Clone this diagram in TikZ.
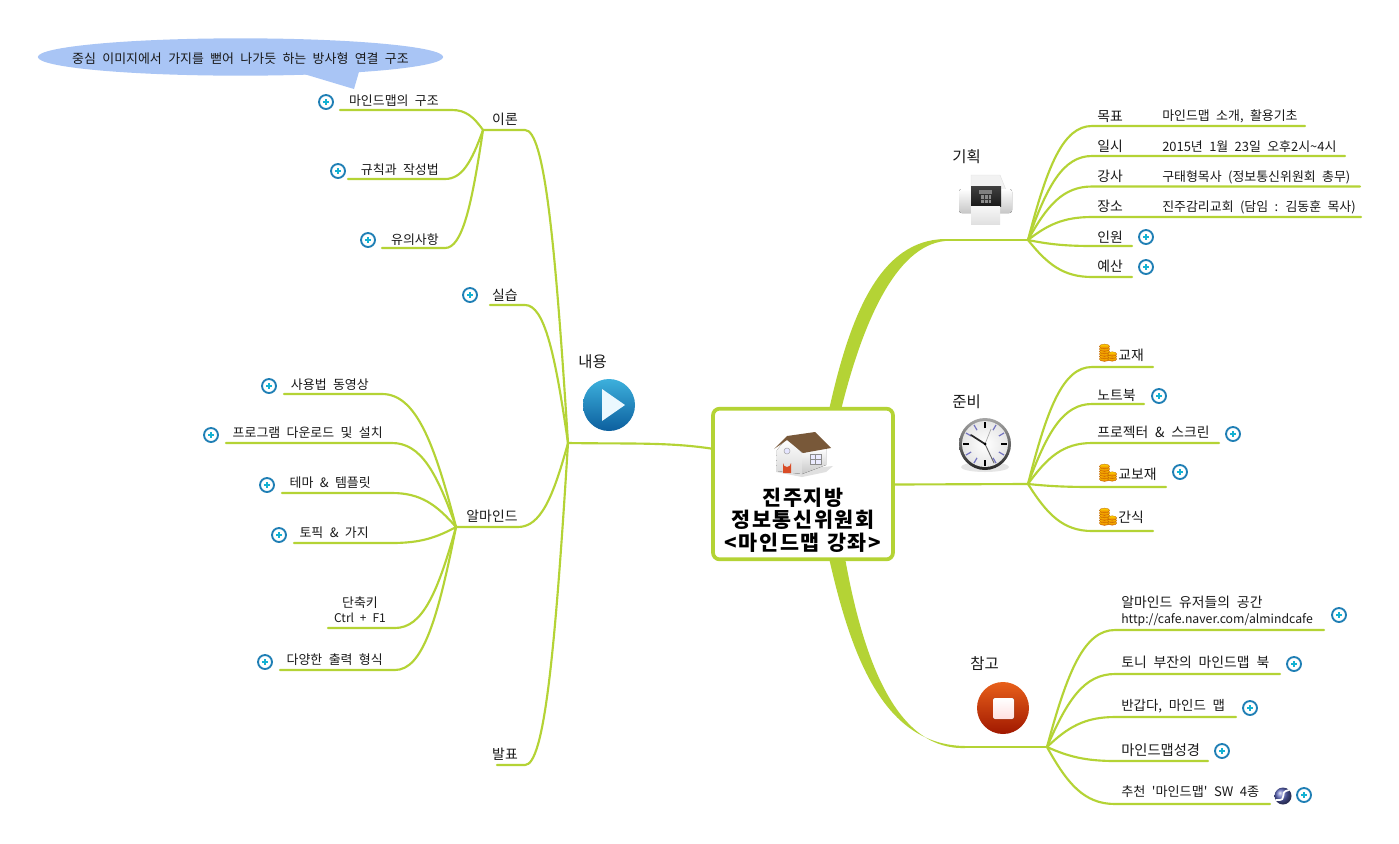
\documentclass[tikz,border=0pt]{standalone}
\usepackage{fontspec}
\setmainfont[WordSpace=2.2]{Noto Sans CJK KR}
\usetikzlibrary{shapes.geometric}
\definecolor{brgreen}{HTML}{B4D335}
\definecolor{plusblue}{HTML}{1F7FB5}
\definecolor{calloutblue}{HTML}{A9C5F5}
\definecolor{playtop}{HTML}{3DB0DC}
\definecolor{playmid}{HTML}{1590C8}
\definecolor{playbot}{HTML}{0C5F9E}
\definecolor{stoptop}{HTML}{E8601A}
\definecolor{stopmid}{HTML}{D93A08}
\definecolor{stopbot}{HTML}{A01800}
\definecolor{globeblue}{HTML}{5A64B8}
\tikzset{
 branch/.style={draw=brgreen,line width=1.6pt,line cap=round},
 txt/.style={inner sep=0pt,font=\fontsize{9.7pt}{11.6pt}\selectfont,text=black!90,align=left,yshift=-0.6pt},
 bigtxt/.style={font=\fontsize{10.4pt}{12pt}\selectfont},
 lefttxt/.style={txt,anchor=west},
 righttxt/.style={txt,anchor=east},
 head/.style={inner sep=0pt,anchor=west,font=\fontsize{11.6pt}{13pt}\selectfont,text=black!90,yshift=-0.6pt},
 plusring/.style={circle,draw=plusblue,line width=1.4pt,fill=white,minimum size=10.5pt,inner sep=0pt},
 centerbox/.style={draw=brgreen,line width=2.8pt,fill=white,rounded corners=5pt,minimum width=135pt,minimum height=113pt},
 taper/.style={fill=brgreen,draw=none},
 coin/.style={top color=yellow!70!orange,bottom color=orange!90!black,draw=orange!75!black,line width=.25pt},
}
\newcommand{\leaf}[7]{%
 \pgfmathsetmacro\ca{#3+0.3*(#5-#3)}\pgfmathsetmacro\cb{#4+0.65*(#6-#4)}\pgfmathsetmacro\cc{#3+0.55*(#5-#3)}%
 \coordinate (#1e) at (#7,#6);
 \draw[branch] (#2) .. controls (\ca,\cb) and (\cc,#6) .. (#5,#6) -- (#1e);}
\newcommand{\plusicon}[3]{%
 \node[plusring] (#1) at (#2,#3) {};
 \draw[plusblue!60!cyan,line width=1.1pt] ([xshift=-2.2pt]#1.center) -- ([xshift=2.2pt]#1.center) ([yshift=-2.2pt]#1.center) -- ([yshift=2.2pt]#1.center);}
\newcommand{\coins}[2]{%
 \begin{scope}[shift={(#1,#2)}]
  \foreach \yy in {6,3.5,1,-1.5,-4,-6.5}{\path[coin] (-2.5,\yy) ellipse[x radius=5.2,y radius=2.4];}
  \foreach \yy in {6,3.5,1}{\path[coin] (5.2,\yy) ellipse[x radius=4.5,y radius=2.2];}
 \end{scope}}
\begin{document}
\begin{tikzpicture}[x=0.75pt,y=-0.75pt]
\useasboundingbox (0,0) rectangle (1399,843);
\fill[white] (0,0) rectangle (1399,843);

% hubs
\coordinate (hubPlan) at (1028,240);
\coordinate (hubPrep) at (1028,484);
\coordinate (hubRef) at (1047,747);
\coordinate (hubCont) at (568,443);
\coordinate (hubTheory) at (483,130);
\coordinate (hubAl) at (456,527);

% main tapered branches
\fill[taper] (829,410) .. controls (850,315) and (880,240) .. (945,239) -- (945,241) .. controls (895,246) and (862,325) .. (841,410) -- cycle;
\draw[branch] (945,240) -- (hubPlan);
\fill[taper] (829,558) .. controls (852,660) and (885,745) .. (965,746) -- (965,748) .. controls (900,750) and (865,670) .. (845,558) -- cycle;
\draw[branch] (965,747) -- (hubRef);
\draw[branch] (894,484.5) -- (hubPrep);
\draw[branch] (714,449) .. controls (670,442) and (630,444) .. (hubCont);

% content sub-branches
\leaf{th}{hubCont}{568}{443}{525}{130}{483}
\leaf{pr}{hubCont}{568}{443}{525}{305}{490}
\leaf{al}{hubCont}{568}{443}{518}{527}{456}
\leaf{pt}{hubCont}{568}{443}{525}{765}{497}

% plan leaves
\leaf{a1}{hubPlan}{1028}{240}{1092}{126}{1305}
\leaf{a2}{hubPlan}{1028}{240}{1092}{156}{1345}
\leaf{a3}{hubPlan}{1028}{240}{1092}{186.5}{1360}
\leaf{a4}{hubPlan}{1028}{240}{1092}{217}{1361}
\leaf{a5}{hubPlan}{1028}{240}{1092}{246}{1132}
\leaf{a6}{hubPlan}{1028}{240}{1092}{277}{1132}
% prep leaves
\leaf{b1}{hubPrep}{1028}{484}{1092}{367}{1153}
\leaf{b2}{hubPrep}{1028}{484}{1092}{404}{1144}
\leaf{b3}{hubPrep}{1028}{484}{1092}{443}{1219}
\leaf{b4}{hubPrep}{1028}{484}{1092}{487}{1166}
\leaf{b5}{hubPrep}{1028}{484}{1092}{531}{1153}
% reference leaves
\leaf{c1}{hubRef}{1047}{747}{1115}{630}{1324}
\leaf{c2}{hubRef}{1047}{747}{1115}{674}{1280}
\leaf{c3}{hubRef}{1047}{747}{1115}{717}{1236}
\leaf{c4}{hubRef}{1047}{747}{1115}{761}{1208}
\leaf{c5}{hubRef}{1047}{747}{1115}{804}{1270}
% theory leaves
\leaf{d1}{hubTheory}{483}{130}{452}{110}{340}
\leaf{d2}{hubTheory}{483}{130}{445}{179}{348}
\leaf{d3}{hubTheory}{483}{130}{445}{248}{382}
% almind leaves
\leaf{e1}{hubAl}{456}{527}{382}{394}{284}
\leaf{e2}{hubAl}{456}{527}{392}{443}{226}
\leaf{e3}{hubAl}{456}{527}{392}{493}{282}
\leaf{e4}{hubAl}{456}{527}{392}{543}{294}
\leaf{e5}{hubAl}{456}{527}{395}{628}{328}
\leaf{e6}{hubAl}{456}{527}{395}{670}{280}

% centre box
\node[centerbox] (center) at (803,484) {};
\node[inner sep=0pt,align=center,font=\bfseries\fontsize{15.5pt}{17pt}\selectfont\addfontfeature{LetterSpace=8}] (centertext) at (803,520) {진주지방\\정보통신위원회\\<마인드맵\hspace{5.5pt}강좌\hspace{1.5pt}>};
% house icon
\begin{scope}
 \fill[black!12] (776,472) -- (833,466) -- (826,472) -- (802,477) -- cycle;
 \fill[top color=white,bottom color=black!15] (777,450) -- (787,438) -- (802,453) -- (802,474) -- (776,471) -- cycle;
 \fill[top color=white,bottom color=black!22] (802,453) -- (826,448) -- (826,465) -- (802,474) -- cycle;
 \fill[brown!55!black!90] (774,449) -- (787,436) -- (815,432) -- (831,448) -- (803,453) -- (787,440) -- cycle;
 \fill[brown!60!red] (783,473) -- (783,463) arc[start angle=180,end angle=0,x radius=4,y radius=4] -- (791,473) -- cycle;
 \draw[black!35,fill=blue!10,line width=.4pt] (787,451) circle[radius=3];
 \draw[black!45,fill=blue!8,line width=.4pt] (810,454) rectangle (821,464) (815.5,454) -- (815.5,464) (810,459) -- (821,459);
\end{scope}

% callout
\fill[calloutblue] (304,74) -- (354,89) -- (359.5,70) -- cycle;
\node[ellipse,fill=calloutblue,minimum width=304pt,minimum height=28pt,inner sep=0pt] (note) at (240.5,57) {};
\node[txt,anchor=center] (notetext) at (240.5,58) {중심 이미지에서 가지를 뻗어 나가듯 하는 방사형 연결 구조};

% headings
\node[head] (hplan) at (952,156) {기획};
\node[head] (hprep) at (952,401) {준비};
\node[head] (href) at (970,663) {참고};
\node[head] (hcont) at (578,361) {내용};

% fax
\begin{scope}
 \fill[black!5,draw=black!12,line width=.3pt] (971,175) -- (1000,175) -- (1006,190) -- (971,190) -- cycle;
 \fill[top color=white,bottom color=black!22,rounded corners=2pt] (959,189) rectangle (1012,213);
 \fill[top color=black!75,bottom color=black!90] (971,186) rectangle (1001,206);
 \fill[black!50] (979,190) rectangle (992,193.5);
 \fill[black!45] (981,195) rectangle (991,203);
 \draw[black!80,line width=.3pt] (984,195) -- (984,203) (988,195) -- (988,203) (981,199) -- (991,199);
 \fill[top color=black!3,bottom color=black!12] (971,206) rectangle (1000,224);
\end{scope}
% clock
\begin{scope}
 \fill[black!10] (985,467) ellipse[x radius=24,y radius=5];
 \shade[top color=black!35,bottom color=black!85] (985,444) circle[radius=26];
 \shade[inner color=white,outer color=black!10] (985,444) circle[radius=23];
 \foreach \a in {0,90,180,270} \draw[black,line width=1.1pt] (985,444) ++(\a:16) -- ++(\a:6);
 \foreach \a in {30,60,120,150,210,240,300,330} \draw[blue!55!black!55,line width=.9pt] (985,444) ++(\a:16) -- ++(\a:6);
 \draw[black!85,line width=1.3pt,line cap=round] (985,444) -- (971,435);
 \draw[black!60,line width=.7pt,line cap=round] (985,444) -- (994,463);
 \draw[black!35,line width=.5pt] (985,444) -- (991,429);
 \fill[black] (985,444) circle[radius=1.5];
\end{scope}
% play
\begin{scope}
 \shade[top color=playtop,middle color=playmid,bottom color=playbot] (609,405) circle[radius=26];
 \fill[white!92!cyan] (602,389) -- (625,405) -- (602,421) -- cycle;
\end{scope}
% stop
\begin{scope}
 \shade[top color=stoptop,middle color=stopmid,bottom color=stopbot] (1003,708) circle[radius=26];
 \fill[top color=white,bottom color=red!12,rounded corners=1.5pt] (993,698) rectangle (1014,719);
\end{scope}

% plan texts
\node[lefttxt,bigtxt] (t1) at (1097,116) {목표};
\node[lefttxt] (t2) at (1162,116) {마인드맵 소개, 활용기초};
\node[lefttxt,bigtxt] (t3) at (1097,145.5) {일시};
\node[lefttxt] (t4) at (1162,145.5) {2015년 1월 23일 오후2시\textasciitilde 4시};
\node[lefttxt,bigtxt] (t5) at (1097,175.5) {강사};
\node[lefttxt] (t6) at (1162,177) {구태형목사 (정보통신위원회 총무)};
\node[lefttxt,bigtxt] (t7) at (1097,205.5) {장소};
\node[lefttxt] (t8) at (1162,207) {진주감리교회 (담임 : 김동훈 목사)};
\node[lefttxt,bigtxt] (t9) at (1097,236) {인원};
\node[lefttxt,bigtxt] (t10) at (1097,266) {예산};
\plusicon{p1}{1146}{237}
\plusicon{p2}{1146}{267}
% prep texts
\coins{1107}{353}
\node[lefttxt,bigtxt] (t11) at (1118,354) {교재};
\node[lefttxt,bigtxt] (t12) at (1097,395) {노트북};
\plusicon{p3}{1159}{396}
\node[lefttxt,bigtxt] (t13) at (1097,432) {프로젝터 \& 스크린};
\plusicon{p4}{1233}{434}
\coins{1107}{473}
\node[lefttxt,bigtxt] (t14) at (1118,473) {교보재};
\plusicon{p5}{1180}{472}
\coins{1107}{517}
\node[lefttxt,bigtxt] (t15) at (1118,516) {간식};
% reference texts
\node[lefttxt,bigtxt] (t16) at (1121,610) {알마인드 유저들의 공간\\\fontsize{9.2pt}{12pt}\selectfont http://cafe.naver.com/almindcafe};
\plusicon{p6}{1339}{615}
\node[lefttxt,bigtxt] (t17) at (1121,662) {토니 부잔의 마인드맵 북};
\plusicon{p7}{1294}{664}
\node[lefttxt,font=\fontsize{10.1pt}{12pt}\selectfont] (t18) at (1121,705) {반갑다, 마인드 맵};
\plusicon{p8}{1250}{708}
\node[lefttxt,font=\fontsize{10.7pt}{12pt}\selectfont] (t19) at (1121,749) {마인드맵성경};
\plusicon{p9}{1222}{751}
\node[lefttxt,font=\fontsize{9.85pt}{12pt}\selectfont] (t20) at (1121,791) {추천 \textquotesingle 마인드맵\textquotesingle\ SW 4종};
\shade[ball color=globeblue] (1283,796) circle[radius=8.5];
\draw[white,line width=1.3pt,line cap=round] (1276,800) .. controls (1290,801) and (1277,792) .. (1289,790);
\plusicon{p10}{1304}{795}
% theory texts
\node[txt,anchor=center,bigtxt] (t21) at (505,119) {이론};
\node[righttxt] (t22) at (439,100) {마인드맵의 구조};
\plusicon{p11}{326}{102}
\node[righttxt] (t23) at (439,169) {규칙과 작성법};
\plusicon{p12}{338}{171}
\node[righttxt] (t24) at (439,239) {유의사항};
\plusicon{p13}{368}{240}
\node[righttxt,bigtxt] (t25) at (518,294) {실습};
\plusicon{p14}{470}{295}
% almind texts
\node[txt,anchor=center,bigtxt] (t26) at (492,515) {알마인드};
\node[righttxt] (t27) at (369,384) {사용법 동영상};
\plusicon{p15}{269}{386}
\node[righttxt] (t28) at (383,432) {프로그램 다운로드 및 설치};
\plusicon{p16}{211}{435}
\node[righttxt] (t29) at (371,482) {테마 \& 템플릿};
\plusicon{p17}{267}{485}
\node[righttxt] (t30) at (369,532) {토픽 \& 가지};
\plusicon{p18}{279}{535}
\node[txt,anchor=center,align=center] (t31) at (360,609) {단축키\\\fontsize{9pt}{11.6pt}\selectfont Ctrl + F1};
\node[righttxt] (t32) at (383,659) {다양한 출력 형식};
\plusicon{p19}{265}{662}
\node[txt,anchor=center,bigtxt] (t33) at (505,753) {발표};
\end{tikzpicture}
\end{document}
